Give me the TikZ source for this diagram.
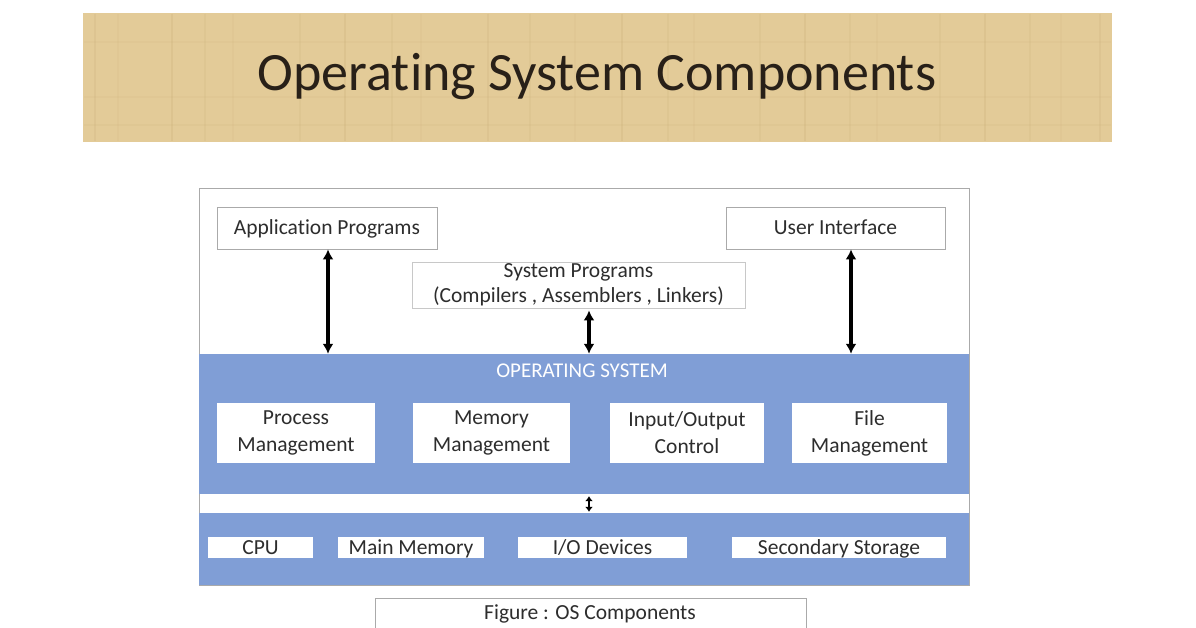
\documentclass[tikz,border=0pt]{standalone}
\usepackage{fontspec}
\setmainfont{Carlito}[Ligatures=NoCommon]
\usetikzlibrary{arrows.meta}
\definecolor{tan}{RGB}{227,203,152}
\definecolor{tandark}{RGB}{200,172,118}
\definecolor{osblue}{RGB}{128,158,214}
\definecolor{txt}{RGB}{45,45,45}
\definecolor{frame}{RGB}{170,170,170}
\tikzset{
  whitebox/.style={draw=frame, line width=0.8pt, fill=white, text=txt, font=\fontsize{21.5}{26}\selectfont, align=center, inner sep=0pt},
  oneline/.style={text height=16.5pt, text depth=3pt},
  hwbox/.style={fill=white, text=txt, font=\fontsize{21.5}{24}\selectfont, inner sep=0pt, text height=16.5pt, text depth=3pt},
  band/.style={fill=osblue, draw=none, inner sep=0pt},
  bigarrow/.style={line width=3.2pt, {Latex[length=10pt,width=11pt]}-{Latex[length=10pt,width=11pt]}},
}
\begin{document}
\begin{tikzpicture}[x=1pt,y=-1pt]
\clip (0,0) rectangle (1196,628);
\fill[white] (0,0) rectangle (1196,628);
% title banner
\node[fill=tan, minimum width=1029pt, minimum height=129pt, inner sep=0pt] (banner) at (597.5,77.5) {};
\foreach \x/\o in {95/0.2,118/0.1,172/0.25,205/0.15,233/0.1,300/0.15,345/0.25,392/0.15,421/0.1,488/0.2,530/0.15,575/0.1,622/0.25,668/0.15,694/0.1,760/0.15,805/0.25,850/0.15,877/0.1,940/0.15,985/0.25,1030/0.15,1061/0.1,1100/0.2}
  \draw[tandark, opacity=\o, line width=1.5pt] (\x,14) -- (\x,141);
\foreach \y/\o in {42/0.1,97/0.1,125/0.12}
  \draw[tandark, opacity=\o, line width=1.2pt] (84,\y) -- (1111,\y);
\node[text={rgb,255:red,40;green,32;blue,24}, font=\fontsize{54}{60}\selectfont, inner sep=0pt] (title) at (597,77) {Operating System Components};
% outer frame
\node[draw=frame, line width=0.8pt, minimum width=770pt, minimum height=397pt, inner sep=0pt] (outer) at (584,386.5) {};
% OS band
\node[band, minimum width=770pt, minimum height=140pt] (osband) at (584,424) {};
\node[band, minimum width=770pt, minimum height=72pt] (hwband) at (584,549) {};
\node[text=white, font=\fontsize{21}{24}\selectfont, inner sep=0pt] (oslabel) at (582,371) {OPERATING SYSTEM};
% upper boxes
\node[whitebox, oneline, minimum width=220pt, minimum height=42pt] (app) at (327,228) {Application Programs};
\node[whitebox, oneline, minimum width=219pt, minimum height=42pt] (ui) at (835.5,228) {User Interface};
\node[whitebox, draw={rgb,255:red,200;green,200;blue,200}, font=\fontsize{21.5}{25}\selectfont, minimum width=333pt, minimum height=46pt] (sys) at (578.5,285) {System Programs\\(Compilers , Assemblers , Linkers)};
% OS components
\node[whitebox, draw=none, font=\fontsize{21.5}{27}\selectfont, minimum width=158pt, minimum height=60pt] (proc) at (296,433) {Process\\Management};
\node[whitebox, draw=none, font=\fontsize{21.5}{27}\selectfont, minimum width=157pt, minimum height=60pt] (mem) at (491.5,433) {Memory\\Management};
\node[whitebox, draw=none, font=\fontsize{21.5}{27}\selectfont, minimum width=154pt, minimum height=60pt] (io) at (687,433) {Input/Output\\Control};
\node[whitebox, draw=none, font=\fontsize{21.5}{27}\selectfont, minimum width=155pt, minimum height=60pt] (file) at (869.5,433) {File\\Management};
% hardware
\node[hwbox, minimum width=105pt, minimum height=21pt] (cpu) at (260.5,547.5) {CPU};
\node[hwbox, minimum width=146pt, minimum height=21pt] (mm) at (411,547.5) {Main Memory};
\node[hwbox, minimum width=169pt, minimum height=21pt] (iod) at (602.5,547.5) {I/O Devices};
\node[hwbox, minimum width=214pt, minimum height=21pt] (sec) at (839,547.5) {Secondary Storage};
% arrows
\draw[bigarrow] ([xshift=1pt]app.south) -- ([xshift=1pt]app.south |- osband.north);
\draw[bigarrow] ([xshift=10.5pt,yshift=-2pt]sys.south) -- ([xshift=10.5pt]sys.south |- osband.north);
\draw[bigarrow] ([xshift=15.5pt]ui.south) -- ([xshift=15.5pt]ui.south |- osband.north);
\draw[line width=2.5pt, {Latex[length=5pt,width=8pt]}-{Latex[length=5pt,width=8pt]}] ([xshift=5pt,yshift=-2pt]osband.south) -- ([xshift=5pt,yshift=1pt]osband.south |- hwband.north);
% caption
\node[draw=frame, line width=0.8pt, fill=white, minimum width=431pt, minimum height=50pt, inner sep=0pt] (capbox) at (590.5,623) {};
\node[text=txt, font=\fontsize{21.5}{24}\selectfont, inner sep=0pt] (cap) at (590,614) {Figure : OS Components};
\end{tikzpicture}
\end{document}
